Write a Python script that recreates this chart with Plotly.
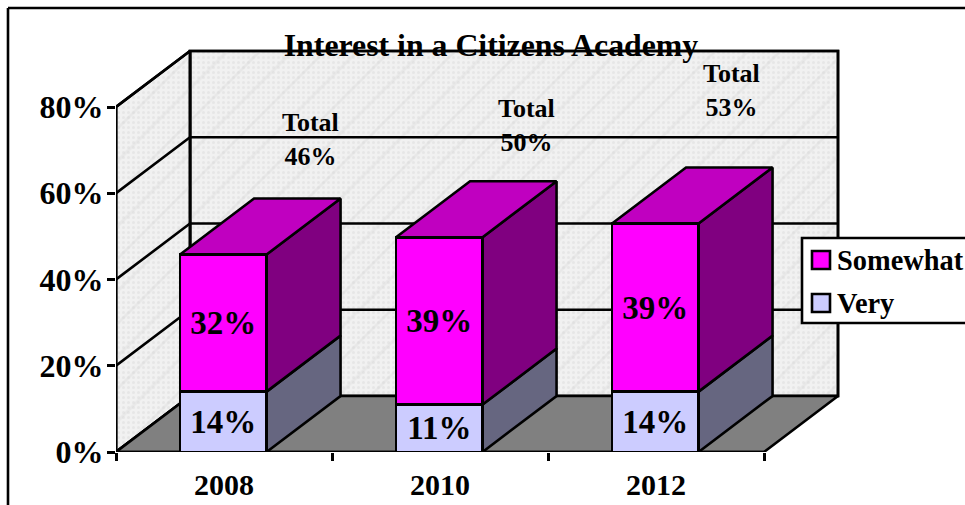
import plotly.graph_objects as go

years = ["2008", "2010", "2012"]
very = [14, 11, 14]
somewhat = [31.8, 38.8, 39]
very_labels = ["14%", "11%", "14%"]
somewhat_labels = ["32%", "39%", "39%"]
totals = ["46%", "50%", "53%"]
y_ticks = [0, 20, 40, 60, 80]
y_labels = ["0%", "20%", "40%", "60%", "80%"]
series_names = ["Somewhat", "Very"]
series_colors = ["#ff00ff", "#ccccff"]

FONT = "Liberation Serif"
W, H = 965, 505
L, B = 116, 53
PX_X, PX_Y = 216.0, 4.3125
DX, DY = 74 / PX_X, 56 / PX_Y
BAR_W = 86.5 / PX_X
XR = [0, (W - L) / PX_X]
YR = [0, (H - B) / PX_Y]
centers = [i + 0.5 for i in range(len(years))]
bar_centers = [c - 0.7 / PX_X for c in centers]
LINE = dict(color="black", width=2.6)


def px(x):
    return (x - L) / (W - L)


def py(y):
    return (H - B - y) / (H - B)


def poly(xs, ys, fill, pattern=None):
    kw = dict(fillpattern=pattern) if pattern else {}
    return go.Scatter(x=xs + xs[:1], y=ys + ys[:1], mode="lines", fill="toself", fillcolor=fill,
                      line=LINE, hoverinfo="skip", showlegend=False, **kw)


def seg(xs, ys):
    return go.Scatter(x=xs, y=ys, mode="lines", line=LINE, hoverinfo="skip", showlegend=False,
                      cliponaxis=False)


fig = go.Figure()
tex = dict(shape=".", size=5, solidity=0.3, fgcolor="#dcdcdc", bgcolor="#f1f1f1")
tex2 = dict(shape="/", size=23, solidity=0.12, fgcolor="rgba(205,205,205,0.55)", bgcolor="rgba(0,0,0,0)")
n = len(years)
top = y_ticks[-1]
back_x, back_y = [DX, n + DX, n + DX, DX], [DY, DY, top + DY, top + DY]
left_x, left_y = [0, DX, DX, 0], [0, DY, top + DY, top]
fig.add_trace(poly(back_x, back_y, "#eeeeee", tex))
fig.add_trace(poly(back_x, back_y, "rgba(0,0,0,0)", tex2))
fig.add_trace(poly(left_x, left_y, "#eeeeee", tex))
fig.add_trace(poly(left_x, left_y, "rgba(0,0,0,0)", tex2))
for v in y_ticks[1:-1]:
    fig.add_trace(seg([0, DX, n + DX], [v, v + DY, v + DY]))
fig.add_trace(poly([0, n, n + DX, DX], [0, 0, DY, DY], "#808080"))

for c, a, b in zip(bar_centers, very, somewhat):
    xl, xr = c - BAR_W / 2, c + BAR_W / 2
    fig.add_trace(poly([xr, xr + DX, xr + DX, xr], [0, DY, a + DY, a], "#666680"))
    fig.add_trace(poly([xr, xr + DX, xr + DX, xr], [a, a + DY, a + b + DY, a + b], "#800080"))
    fig.add_trace(poly([xl, xr, xr + DX, xl + DX], [a + b, a + b, a + b + DY, a + b + DY], "#c000c0"))

fig.add_trace(seg([0, 0], [0, top]))
fig.add_trace(seg([0, n], [0, 0]))

barfont = dict(family=FONT, size=33, color="black", weight=700)
fig.add_trace(go.Bar(x=bar_centers, y=very, width=BAR_W, name="Very", xaxis="x2", yaxis="y2",
                     marker=dict(color=series_colors[1], line=LINE), text=very_labels,
                     textposition="inside", insidetextanchor="middle", textangle=0,
                     textfont=barfont, hoverinfo="skip", showlegend=False))
fig.add_trace(go.Bar(x=bar_centers, y=somewhat, width=BAR_W, name="Somewhat", xaxis="x2", yaxis="y2",
                     marker=dict(color=series_colors[0], line=LINE), text=somewhat_labels,
                     textposition="inside", insidetextanchor="middle", textangle=0,
                     textfont=barfont, hoverinfo="skip", showlegend=False))

label_x = [(310 - L) / PX_X, (526 - L) / PX_X, (731 - L) / PX_X]
label_y = [(452 - 139) / PX_Y, (452 - 125) / PX_Y, (452 - 90) / PX_Y]
annotations = [dict(x=x, y=y, xref="x", yref="y", text=f"Total<br>{t}", showarrow=False,
                    font=dict(family=FONT, size=26, color="black", weight=700))
               for x, y, t in zip(label_x, label_y, totals)]

shapes = [
    dict(type="line", xref="paper", yref="paper", x0=px(8), x1=px(8), y0=py(H), y1=py(8), line=LINE),
    dict(type="line", xref="paper", yref="paper", x0=px(8), x1=px(W + 5), y0=py(8), y1=py(8), line=LINE),
    dict(type="rect", xref="paper", yref="paper", x0=px(802), x1=px(W + 20), y0=py(323), y1=py(238),
         fillcolor="white", line=LINE),
]
for name, color, cy in zip(series_names, series_colors, [260, 303]):
    shapes.append(dict(type="rect", xref="paper", yref="paper", x0=px(812), x1=px(830),
                       y0=py(cy + 9), y1=py(cy - 9), fillcolor=color, line=LINE))
    annotations.append(dict(x=px(835), y=py(cy), xref="paper", yref="paper", xanchor="left", yanchor="middle",
                            text=name, showarrow=False,
                            font=dict(family=FONT, size=28.4, color="black", weight=700)))

tickfont_y = dict(family=FONT, size=32, color="black", weight=700)
tickfont_x = dict(family=FONT, size=30, color="black", weight=700)
fig.update_layout(
    width=W, height=H, margin=dict(l=L, r=0, t=0, b=B, autoexpand=False),
    paper_bgcolor="white", plot_bgcolor="white", barmode="stack", showlegend=False,
    title=dict(text="Interest in a Citizens Academy", x=491 / W, xref="container", xanchor="center",
               y=1 - 45 / H, yref="container", yanchor="middle",
               font=dict(family=FONT, size=31.8, color="black", weight=700)),
    xaxis=dict(range=XR, showgrid=False, zeroline=False, showline=False, tickvals=centers, ticktext=years,
               ticks="", tickfont=tickfont_x, ticklabelstandoff=12,
               minor=dict(tick0=0, dtick=1, ticks="outside", ticklen=8, tickwidth=2.6, tickcolor="black",
                          showgrid=False)),
    yaxis=dict(range=YR, showgrid=False, zeroline=False, showline=False, tickvals=y_ticks, ticktext=y_labels,
               ticks="outside", ticklen=8, tickwidth=2.6, tickcolor="black", tickfont=tickfont_y,
               ticklabelstandoff=-3),
    xaxis2=dict(range=XR, overlaying="x", visible=False),
    yaxis2=dict(range=YR, overlaying="y", visible=False),
    annotations=annotations,
    shapes=shapes,
)
fig.write_html("out.html", config=dict(displayModeBar=False),
               post_script="document.body.style.margin='0';document.body.style.overflow='hidden';")
